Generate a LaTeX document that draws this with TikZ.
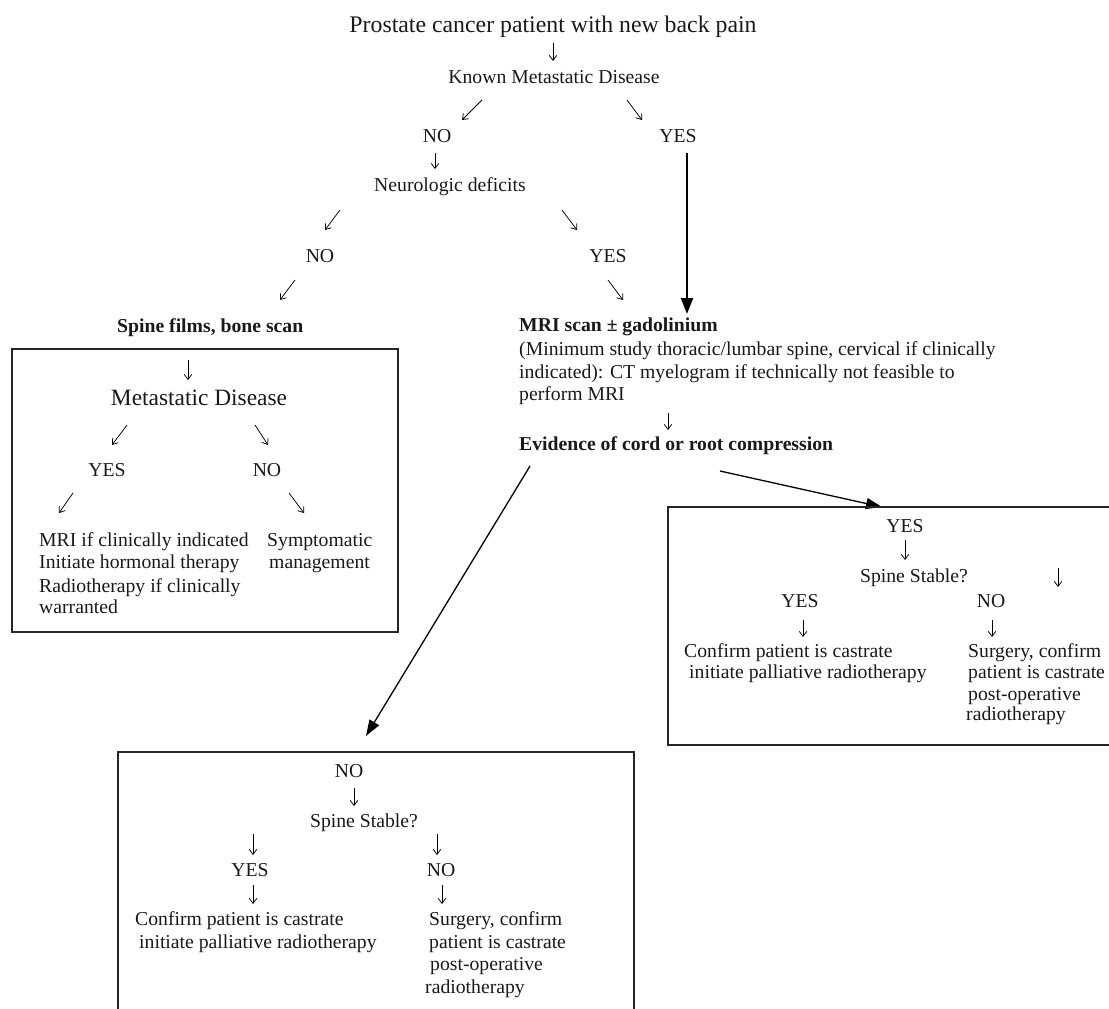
\documentclass[tikz,border=0pt]{standalone}
\usepackage{fontspec}
\setmainfont{Liberation Serif}
\usetikzlibrary{arrows.meta}
\begin{document}
\begin{tikzpicture}[x=1pt,y=-1pt,
  txt/.style={inner sep=0pt, text=black!90, font=\fontsize{19.7}{23}\selectfont},
  ctr/.style={txt, anchor=base},
  lft/.style={txt, anchor=base west},
  bld/.style={lft, font=\fontsize{19.7}{23}\selectfont\bfseries},
  glyph/.style={line width=0.75pt, -{Straight Barb[length=5pt,width=7.5pt]}},
  heavy/.style={line width=2pt, -{Triangle[length=16pt,width=12pt]}},
  longarrow/.style={line width=1.3pt, -{Triangle[length=16pt,width=11pt]}},
  frame/.style={draw=black!85, line width=1.2pt}]
\useasboundingbox (0,0) rectangle (1109,1009);

% ---- main trunk ----
\node[ctr, font=\fontsize{23.8}{28}\selectfont] (title) at (553,32) {Prostate cancer patient with new back pain};
\draw[glyph] (553,43) -- (553,61);
\node[ctr] (known) at (554,83) {Known Metastatic Disease};
\draw[glyph] (482,100) -- (462,120);
\draw[glyph] (627,100) -- (642,120);
\node[ctr] (no1) at (437,142) {NO};
\node[ctr] (yes1) at (678,142) {YES};
\draw[glyph] (435,153) -- (435,169);
\node[ctr] (neuro) at (450,191) {Neurologic deficits};
\draw[glyph] (340,210) -- (325,230);
\draw[glyph] (562,210) -- (577,230);
\node[ctr] (no2) at (320,262) {NO};
\node[ctr] (yes2) at (608,262) {YES};
\draw[glyph] (295,280) -- (280,300);
\draw[glyph] (608,280) -- (623,300);

\node[bld] (films) at (117,332) {Spine films, bone scan};

% ---- imaging branch ----
\node[bld] (mri) at (519,331) {MRI scan ± gadolinium};
\node[lft] (mri1) at (519,355) {(Minimum study thoracic/lumbar spine, cervical if clinically};
\node[lft] (mri2) at (519,378) {indicated): CT myelogram if technically not feasible to};
\node[lft] (mri3) at (519,400) {perform MRI};
\draw[glyph] (668,413) -- (668,430);
\node[bld] (evid) at (519,450) {Evidence of cord or root compression};

\coordinate (yesfoot) at (687,153);
\coordinate (mritop) at (687,314);
\draw[heavy] (yesfoot) -- (mritop);

\coordinate (evleft) at (530,466);
\coordinate (evright) at (720,471);
\coordinate (nobox) at (366,736);
\coordinate (yesbox) at (882,507);
\draw[longarrow] (evleft) -- (nobox);
\draw[longarrow] (evright) -- (yesbox);

% ---- left box: no neurologic deficits ----
\draw[frame] (12,349) rectangle (398,632);
\draw[glyph] (188,360) -- (188,380);
\node[ctr, font=\fontsize{23.4}{27}\selectfont] (meta) at (199,405) {Metastatic Disease};
\draw[glyph] (127,425) -- (112,445);
\draw[glyph] (255,425) -- (268,445);
\node[ctr] (yes3) at (107,476) {YES};
\node[ctr] (no3) at (267,476) {NO};
\draw[glyph] (73,493) -- (59,513);
\draw[glyph] (289,493) -- (304,513);
\node[lft] (l1) at (39,546) {MRI if clinically indicated};
\node[lft] (l2) at (39,568) {Initiate hormonal therapy};
\node[lft] (l3) at (39,592) {Radiotherapy if clinically};
\node[lft] (l4) at (39,613) {warranted};
\node[lft] (s1) at (267,546) {Symptomatic};
\node[lft] (s2) at (269,568) {management};

% ---- right box: compression present ----
\draw[frame] (1112,507) -- (668,507) -- (668,745) -- (1112,745);
\node[ctr] (yes4) at (905,532) {YES};
\draw[glyph] (905,540) -- (905,560);
\node[ctr] (stab1) at (914,582) {Spine Stable?};
\draw[glyph] (1058,568) -- (1058,587);
\node[ctr] (yes5) at (800,607) {YES};
\node[ctr] (no5) at (991,607) {NO};
\draw[glyph] (803,620) -- (803,637);
\draw[glyph] (992,620) -- (992,637);
\node[lft] (r1) at (684,657) {Confirm patient is castrate};
\node[lft] (r2) at (689,678) {initiate palliative radiotherapy};
\node[lft] (r3) at (968,657) {Surgery, confirm};
\node[lft] (r4) at (968,678) {patient is castrate};
\node[lft] (r5) at (968,700) {post-operative};
\node[lft] (r6) at (966,720) {radiotherapy};

% ---- bottom box: no compression ----
\draw[frame] (118,1012) -- (118,752) -- (634,752) -- (634,1012);
\node[ctr] (no6) at (349,777) {NO};
\draw[glyph] (354,788) -- (354,806);
\node[ctr] (stab2) at (364,827) {Spine Stable?};
\draw[glyph] (253,834) -- (253,855);
\draw[glyph] (437,834) -- (437,855);
\node[ctr] (yes7) at (250,876) {YES};
\node[ctr] (no7) at (441,876) {NO};
\draw[glyph] (253,885) -- (253,904);
\draw[glyph] (442,885) -- (442,904);
\node[lft] (b1) at (135,925) {Confirm patient is castrate};
\node[lft] (b2) at (139,948) {initiate palliative radiotherapy};
\node[lft] (b3) at (429,925) {Surgery, confirm};
\node[lft] (b4) at (429,948) {patient is castrate};
\node[lft] (b5) at (430,970) {post-operative};
\node[lft] (b6) at (425,993) {radiotherapy};
\end{tikzpicture}
\end{document}
